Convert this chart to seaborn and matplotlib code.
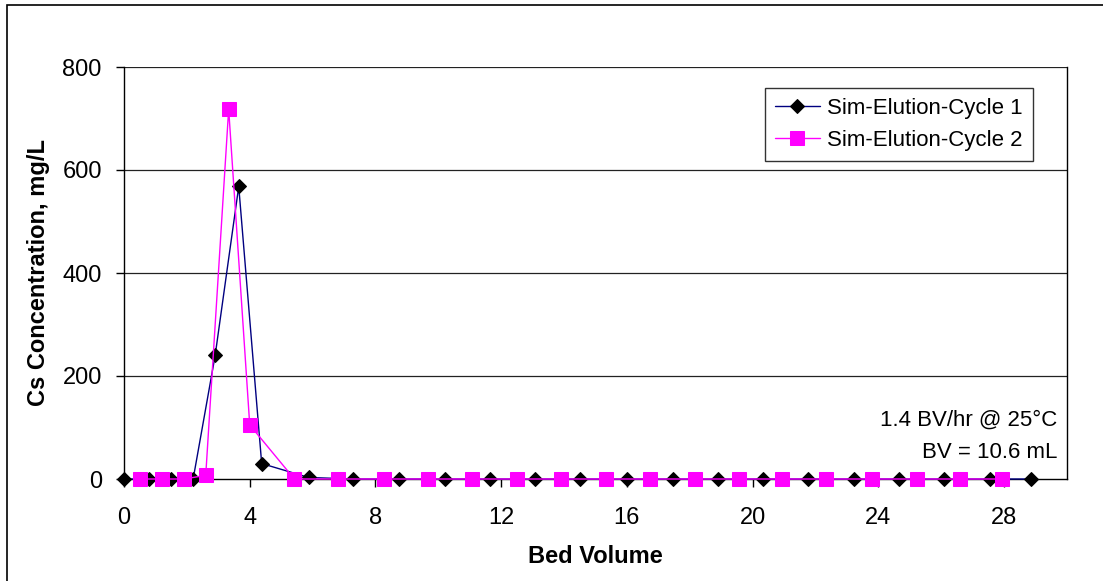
import matplotlib
matplotlib.use("Agg")
import matplotlib.pyplot as plt
import matplotlib.patches as mpatches
import seaborn as sns
import pandas as pd

# Elution profiles: bed volumes vs Cs concentration (mg/L)
cycle1_bv = [0.0, 0.8, 1.5, 2.2, 2.9, 3.65, 4.38, 5.87, 7.28, 8.74, 10.2, 11.65,
             13.06, 14.52, 16.0, 17.46, 18.9, 20.32, 21.76, 23.22, 24.65, 26.1,
             27.54, 28.85]
cycle1_cs = [0, 0, 0, 0, 240, 568, 30, 3, 0, 0, 0, 0,
             0, 0, 0, 0, 0, 0, 0, 0, 0, 0, 0, 0]

cycle2_bv = [0.5, 1.2, 1.9, 2.6, 3.33, 4.0, 5.42, 6.8, 8.26, 9.67, 11.08, 12.5,
             13.9, 15.32, 16.74, 18.15, 19.56, 20.94, 22.34, 23.8, 25.22, 26.6,
             27.94]
cycle2_cs = [0, 0, 0, 7, 718, 105, 0, 0, 0, 0, 0, 0,
             0, 0, 0, 0, 0, 0, 0, 0, 0, 0, 0]

series_names = ["Sim-Elution-Cycle 1", "Sim-Elution-Cycle 2"]
x_ticks = [0, 4, 8, 12, 16, 20, 24, 28]
y_ticks = [0, 200, 400, 600, 800]
note_lines = ["1.4 BV/hr @ 25°C", "BV = 10.6 mL"]

sns.set_theme(style="white")
plt.rcParams["font.family"] = ["Liberation Sans", "DejaVu Sans"]
plt.rcParams["text.color"] = "black"
plt.rcParams["axes.labelcolor"] = "black"
plt.rcParams["xtick.color"] = "black"
plt.rcParams["ytick.color"] = "black"

df1 = pd.DataFrame({"bv": cycle1_bv, "cs": cycle1_cs})
df2 = pd.DataFrame({"bv": cycle2_bv, "cs": cycle2_cs})

fig = plt.figure(figsize=(11.03, 5.81), dpi=100)
ax = fig.add_axes([124 / 1103, 1 - 479 / 581, (1067 - 124) / 1103, (479 - 67) / 581])

# horizontal gridlines behind the data
for yv in y_ticks[1:]:
    ax.axhline(yv, color="#222222", lw=0.9, zorder=0)

sns.lineplot(data=df1, x="bv", y="cs", ax=ax, color="#000080", lw=1.0,
             marker="D", markersize=7.6, markerfacecolor="black",
             markeredgecolor="black", label=series_names[0], estimator=None,
             sort=False, zorder=3, clip_on=False)
sns.lineplot(data=df2, x="bv", y="cs", ax=ax, color="#FF00FF", lw=1.0,
             marker="s", markersize=10.5, markerfacecolor="#FF00FF",
             markeredgecolor="#FF00FF", label=series_names[1], estimator=None,
             sort=False, zorder=4, clip_on=False)

ax.set_xlim(0, 30)
ax.set_ylim(0, 800)
ax.set_xticks(x_ticks)
ax.set_yticks(y_ticks)
ax.tick_params(axis="both", direction="out", length=6, width=1, color="black",
               labelcolor="black", labelsize=17, bottom=True, left=True)
ax.tick_params(axis="x", pad=14)
ax.tick_params(axis="y", pad=10)

for side in ["left", "bottom", "right"]:
    ax.spines[side].set_color("black")
    ax.spines[side].set_linewidth(1.0)
ax.spines["top"].set_visible(False)

ax.set_xlabel("Bed Volume", fontsize=17, fontweight="bold", labelpad=12,
              color="black")
ax.set_ylabel("Cs Concentration, mg/L", fontsize=17, fontweight="bold",
              labelpad=9, color="black")

leg = ax.legend(loc="upper right", bbox_to_anchor=(1033 / 1103, 1 - 88 / 581),
                bbox_transform=fig.transFigure, fontsize=16, frameon=True,
                fancybox=False, edgecolor="black", handlelength=2.0,
                borderpad=0.45, labelspacing=0.5, handletextpad=0.35,
                borderaxespad=0)
leg.get_frame().set_linewidth(1.0)
for t in leg.get_texts():
    t.set_color("black")

ax.text(1057 / 1103, 1 - 420 / 581, note_lines[0], transform=fig.transFigure,
        ha="right", va="center", fontsize=16, color="black")
ax.text(1057 / 1103, 1 - 452 / 581, note_lines[1], transform=fig.transFigure,
        ha="right", va="center", fontsize=16, color="black")

# outer frame of the chart area
frame = mpatches.Rectangle((7 / 1103, -0.02), 1.05, 1 - 5 / 581 + 0.02,
                           transform=fig.transFigure, fill=False,
                           edgecolor="black", lw=1.2, clip_on=False)
fig.patches.append(frame)

fig.savefig("out.png", dpi=100)
